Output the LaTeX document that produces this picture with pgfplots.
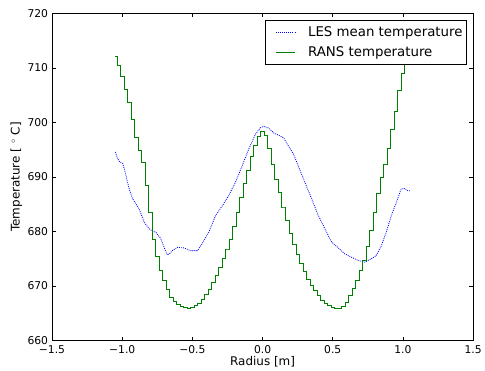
\documentclass[border=0pt]{standalone}
\usepackage{pgfplots}
\pgfplotsset{compat=1.18}
\usepackage{fontspec}
\setmainfont{DejaVu Sans}
\definecolor{mplgreen}{HTML}{008000}
\definecolor{mplblue}{HTML}{0000FF}
\begin{document}
\begin{tikzpicture}
\begin{axis}[
  scale only axis,
  width=423.2pt, height=328.8pt,
  xmin=-1.5, xmax=1.5, ymin=660, ymax=720,
  xtick={-1.5,-1,-0.5,0,0.5,1,1.5},
  xticklabels={−1.5,−1.0,−0.5,0.0,0.5,1.0,1.5},
  ytick={660,670,680,690,700,710,720},
  /pgf/number format/assume math mode=true,
  tick align=inside, major tick length=4pt,
  axis line style={line width=0.8pt},
  every tick/.style={black, line width=0.6pt},
  tick label style={font=\fontsize{10.8}{12}\selectfont},
  xticklabel style={anchor=north, yshift=-1.5pt},
  yticklabel style={anchor=east, xshift=-0.5pt},
  xlabel={Radius [m]},
  ylabel={Temperature [ $^\circ$ C]},
  every axis x label/.style={at={(axis description cs:0.5,0)}, yshift=-21.5pt, anchor=center, font=\fontsize{12}{14}\selectfont},
  every axis y label/.style={at={(axis description cs:0,0.5)}, xshift=-35.8pt, rotate=90, anchor=center, font=\fontsize{12}{14}\selectfont},
  legend style={at={(rel axis cs:0.984,0.98)}, anchor=north east, draw=black, line width=0.8pt,
    font=\fontsize{13.4}{16}\selectfont, cells={anchor=west}, inner xsep=1.5pt, inner ysep=4pt, row sep=5pt},
  legend cell align=left,
]
\addplot[color=mplblue, line width=0.8pt, dash pattern=on 0.9pt off 1.1pt,
  legend image code/.code={\path[draw=none,fill=none] (-8.5pt,-0.1pt) rectangle (30.5pt,0.1pt); \draw[draw=mplblue, line width=0.9pt, dash pattern=on 1pt off 1.1pt] (0pt,0pt) -- (19pt,0pt);}]
coordinates {
(-1.049,694.6) (-1.032,693.3) (-1.015,692.7) (-0.997,692.5) (-0.985,691.5) (-0.973,690.2) (-0.95,687.8) (-0.926,686.0)
(-0.9,685.0) (-0.879,684.1) (-0.843,681.7) (-0.808,680.5) (-0.785,680.1) (-0.761,679.9) (-0.725,678.7)
(-0.702,677.1) (-0.678,675.7) (-0.66,676.0) (-0.643,676.5) (-0.607,677.1) (-0.56,677.0) (-0.513,676.5)
(-0.465,676.5) (-0.43,677.8) (-0.383,679.9) (-0.335,682.9) (-0.288,684.7) (-0.241,686.6) (-0.194,689.0)
(-0.146,692.0) (-0.099,695.1) (-0.052,697.8) (-0.017,699.0) (0.007,699.3) (0.043,699.0) (0.078,698.1)
(0.113,697.7) (0.149,697.2) (0.184,695.7) (0.22,694.2) (0.255,692.0) (0.302,689.0) (0.35,686.0)
(0.397,682.9) (0.444,680.5) (0.491,678.1) (0.539,677.0) (0.586,675.9) (0.633,675.3) (0.68,674.7)
(0.728,674.4) (0.775,675.0) (0.81,675.6) (0.846,677.4) (0.881,679.9) (0.917,682.9) (0.952,685.3)
(0.987,687.8) (1.011,687.9) (1.035,687.5) (1.054,687.5)
};
\addlegendentry{LES mean temperature}
\addplot[color=mplgreen, line width=0.8pt, const plot mark mid,
  legend image code/.code={\path[draw=none,fill=none] (-8.5pt,-0.1pt) rectangle (30.5pt,0.1pt); \draw[draw=mplgreen, line width=0.8pt] (0pt,0pt) -- (19pt,0pt);}]
coordinates {
(-1.05,712.1) (-1.025,710.5) (-1.0,708.4) (-0.975,706.0) (-0.95,703.6) (-0.925,700.5) (-0.9,697.3)
(-0.875,694.8) (-0.85,692.6) (-0.825,688.5) (-0.8,683.5) (-0.775,678.5) (-0.75,675.5) (-0.725,672.8)
(-0.7,671.0) (-0.675,669.3) (-0.65,668.0) (-0.625,667.2) (-0.6,666.6) (-0.575,666.2) (-0.55,666.0)
(-0.525,665.9) (-0.5,666.1) (-0.475,666.5) (-0.45,666.9) (-0.425,667.6) (-0.4,668.4) (-0.375,669.4)
(-0.35,670.6) (-0.325,671.9) (-0.3,673.4) (-0.275,675.0) (-0.25,676.8) (-0.225,678.6) (-0.2,681.0)
(-0.175,683.6) (-0.15,686.2) (-0.125,688.8) (-0.1,691.3) (-0.075,693.8) (-0.05,695.8) (-0.025,697.5)
(0.0,698.4) (0.025,697.7) (0.05,695.2) (0.075,692.3) (0.1,689.6) (0.125,687.2) (0.15,684.5)
(0.175,682.0) (0.2,679.6) (0.225,677.6) (0.25,675.8) (0.275,674.1) (0.3,672.6) (0.325,671.3)
(0.35,670.2) (0.375,669.2) (0.4,668.2) (0.425,667.4) (0.45,666.8) (0.475,666.4) (0.5,666.1)
(0.525,665.9) (0.55,665.9) (0.575,666.3) (0.6,667.0) (0.625,668.2) (0.65,669.5) (0.675,671.0)
(0.7,672.8) (0.725,674.8) (0.75,677.2) (0.775,680.3) (0.8,683.6) (0.825,687.0) (0.85,690.0)
(0.875,692.3) (0.9,695.2) (0.925,698.8) (0.95,702.0) (0.975,705.8) (1.0,709.0) (1.025,711.5) (1.05,713.0)
};
\addlegendentry{RANS temperature}
\end{axis}
\path[use as bounding box] (-52.3pt,-28.7pt) rectangle (432.7pt,342.3pt);
\end{tikzpicture}
\end{document}
